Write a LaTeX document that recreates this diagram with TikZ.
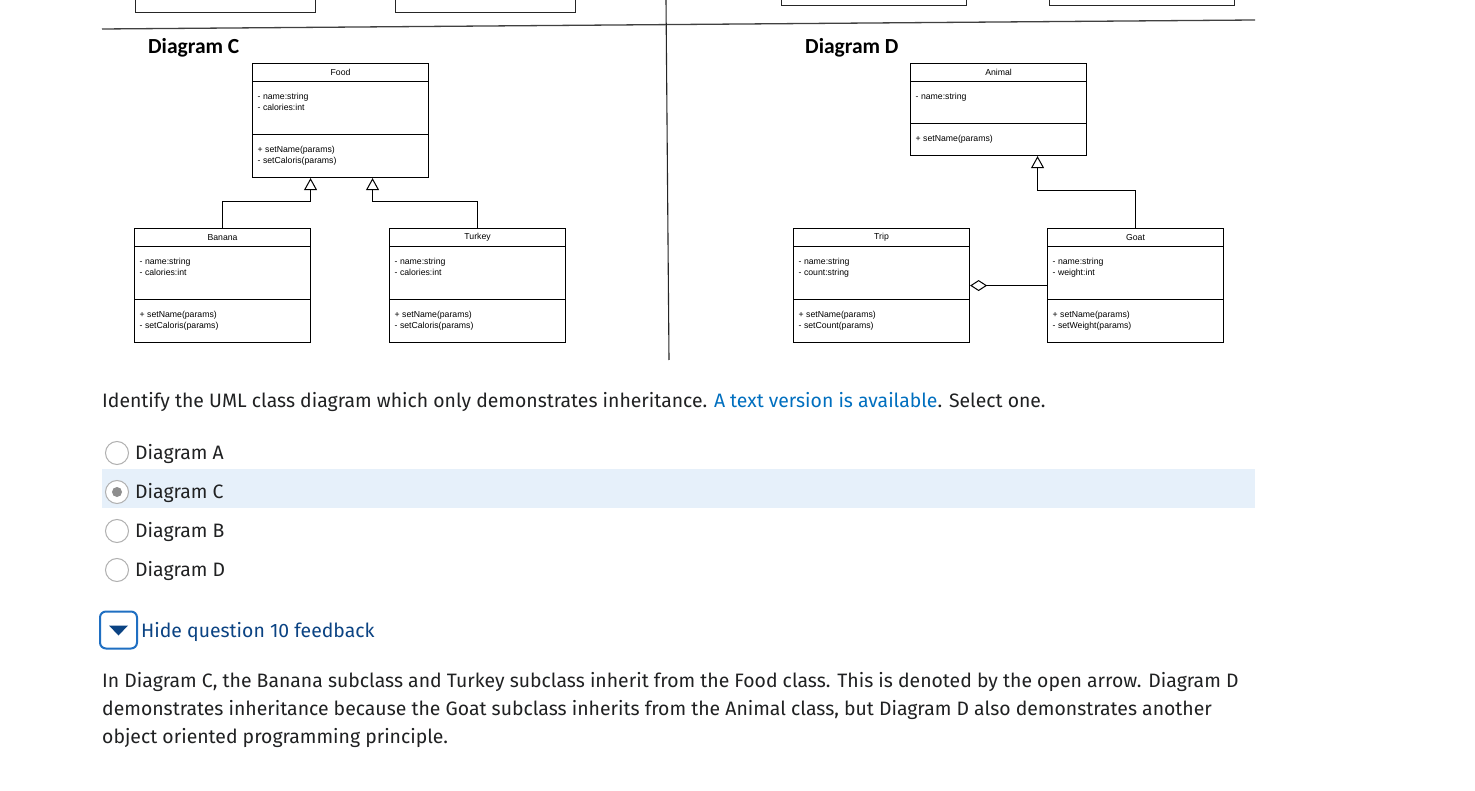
\documentclass[tikz,border=0pt]{standalone}
\usepackage{fontspec}
\setmainfont{Fira Sans}
\newfontfamily\umlfont{Liberation Sans}
\newfontfamily\titlefont{Carlito}
\usetikzlibrary{arrows.meta,calc}
\definecolor{txt}{HTML}{202122}
\definecolor{linkblue}{HTML}{006FBF}
\definecolor{navy}{HTML}{0B4383}
\definecolor{btnblue}{HTML}{1F6FC2}
\definecolor{band}{HTML}{E6F0FA}
\definecolor{radiogray}{HTML}{8E8E8E}
\tikzset{
  umlbox/.style={draw, line width=1.1pt, minimum width=176pt, inner sep=0pt, anchor=north west},
  umlline/.style={line width=1pt},
  umltxt/.style={font=\umlfont\fontsize{8.7}{11}\selectfont, inner sep=0pt, text=black},
  inh/.style={line width=1pt, -{Triangle[open,length=12pt,width=13pt]}},
  agg/.style={line width=1pt, -{Diamond[open,length=17pt,width=11pt]}},
  dtitle/.style={font=\titlefont\bfseries\fontsize{21.5}{25}\selectfont, anchor=west, inner sep=0pt},
  uitext/.style={font=\fontsize{19.4}{23}\selectfont, anchor=west, inner sep=0pt, text=txt},
  radio/.style={circle, draw=radiogray!70, line width=1pt, minimum size=23pt, inner sep=0pt, fill=white},
  cutbox/.style={line width=1pt, black!85},
}
\newcommand\umlclass[8]{%
  \node[umlbox, minimum height=#4pt] (#1) at (#2,#3) {};
  \draw[umlline] ($(#1.north west)+(0,19)$) -- ($(#1.north east)+(0,19)$);
  \draw[umlline] ($(#1.north west)+(0,#5)$) -- ($(#1.north east)+(0,#5)$);
  \node[umltxt] (#1-title) at ($(#1.north)+(0,9.5)$) {#6};
  \node[umltxt, anchor=north west, align=left] (#1-attr) at ($(#1.north west)+(5.5,30)$) {#7};
  \node[umltxt, anchor=north west, align=left] (#1-meth) at ($(#1.north west)+(5.5,#5+11)$) {#8};
}
\begin{document}
\begin{tikzpicture}[x=1pt,y=-1pt]
\useasboundingbox (0,0) rectangle (1475,791);
\fill[white] (0,0) rectangle (1475,791);

% cut-off boxes at the top
\draw[cutbox] (135,0) -- (135,13) -- (315,13) -- (315,0);
\draw[cutbox] (395,0) -- (395,13) -- (575,13) -- (575,0);
\draw[cutbox] (781,0) -- (781,6) -- (966,6) -- (966,0);
\draw[cutbox] (1049,0) -- (1049,6) -- (1234,6) -- (1234,0);

% separators
\draw[line width=1.3pt, black!75] (102,29) -- (1255,20);
\draw[line width=1.1pt, black!85] (666,0) -- (669,360);

% Diagram C
\node[dtitle] (titleC) at (148,47.5) {Diagram C};
\umlclass{food}{252}{63}{114}{72}{Food}{- name:string\\- calories:int}{+ setName(params)\\- setCaloris(params)}
\umlclass{banana}{134}{228}{114}{72}{Banana}{- name:string\\- calories:int}{+ setName(params)\\- setCaloris(params)}
\umlclass{turkey}{389}{228}{114}{72}{Turkey}{- name:string\\- calories:int}{+ setName(params)\\- setCaloris(params)}
\draw[inh] (banana.north) -- ++(0,-26) -| ($(food.south)+(-30,0)$);
\draw[inh] (turkey.north) -- ++(0,-26) -| ($(food.south)+(32,0)$);

% Diagram D
\node[dtitle] (titleD) at (805,47.5) {Diagram D};
\umlclass{animal}{910}{63}{92}{61}{Animal}{- name:string}{+ setName(params)}
\umlclass{trip}{793}{228}{114}{72}{Trip}{- name:string\\- count:string}{+ setName(params)\\- setCount(params)}
\umlclass{goat}{1047}{228}{114}{72}{Goat}{- name:string\\- weight:int}{+ setName(params)\\- setWeight(params)}
\draw[inh] (goat.north) -- ++(0,-37) -| ($(animal.south)+(39,0)$);
\draw[agg] (goat.west) -- (trip.east);

% question
\node[uitext] (q) at (102,402) {Identify the UML class diagram which only demonstrates inheritance. \textcolor{linkblue}{A text version is available}. Select one.};

\node[fill=band, minimum width=1153pt, minimum height=39pt, inner sep=0pt, anchor=north west] (sel) at (102,469) {};
\node[radio] (rA) at (117,453) {};
\node[uitext] (oA) at (135,454) {Diagram A};
\node[radio] (rC) at (117,492) {};
\node[circle, fill=radiogray, minimum size=10pt, inner sep=0pt] (rCdot) at (rC) {};
\node[uitext] (oC) at (135,493) {Diagram C};
\node[radio] (rB) at (117,531) {};
\node[uitext] (oB) at (135,532) {Diagram B};
\node[radio] (rD) at (117,570) {};
\node[uitext] (oD) at (135,571) {Diagram D};

% feedback toggle
\node[draw=btnblue, line width=2pt, rounded corners=6pt, minimum size=37pt, inner sep=0pt] (btn) at (118.5,630) {};
\fill[navy] ($(btn.center)+(-9.5,-4.5)$) -- ($(btn.center)+(9.5,-4.5)$) -- ($(btn.center)+(0,5.5)$) -- cycle;
\node[uitext, text=navy] (hide) at (141,632) {Hide question 10 feedback};

\node[uitext] (fb1) at (102,682) {In Diagram C, the Banana subclass and Turkey subclass inherit from the Food class. This is denoted by the open arrow. Diagram D};
\node[uitext] (fb2) at (102,710) {demonstrates inheritance because the Goat subclass inherits from the Animal class, but Diagram D also demonstrates another};
\node[uitext] (fb3) at (102,738) {object oriented programming principle.};
\end{tikzpicture}
\end{document}
